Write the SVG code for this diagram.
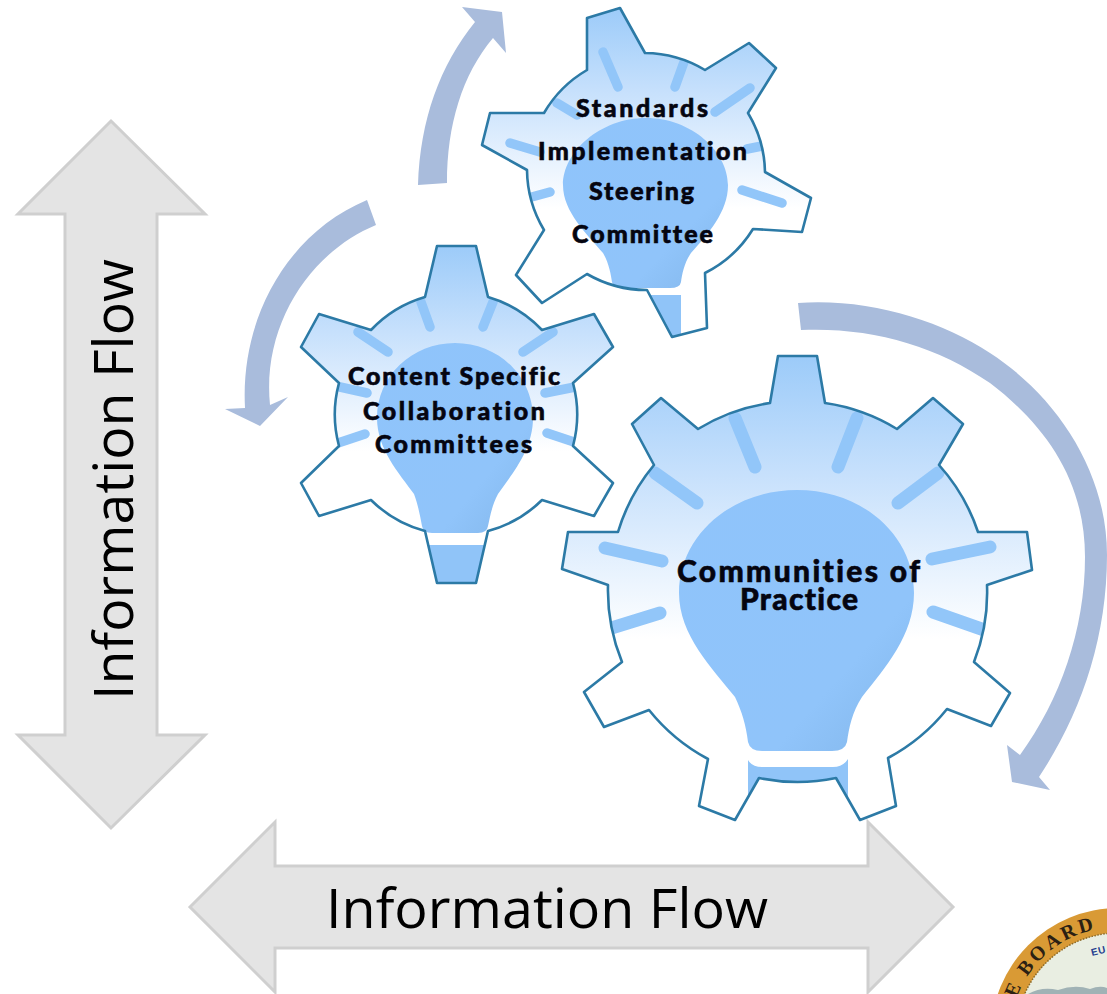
<svg xmlns="http://www.w3.org/2000/svg" width="1107" height="994" viewBox="0 0 1107 994">
<style>
.flow{fill:#e4e4e4;stroke:#cfcfcf;stroke-width:3;stroke-linejoin:miter}
.flowtext{font-family:"Open Sans","Noto Sans",sans-serif;font-size:55px;fill:#000}
.cycle{fill:#a9bcdc}
.gearfill{fill:url(#gearGrad)}
.gearline{fill:none;stroke:#2c7aa6;stroke-width:2.6;stroke-linejoin:round}
.ray{fill:none;stroke:#92c6f9;stroke-linecap:round}
.bulb{fill:url(#bulbGrad)}
.base{fill:#90c4f8}
.label{font-family:Lato,"Noto Sans",sans-serif;font-weight:900;fill:#050510;stroke:#050510;stroke-width:0.6;text-anchor:middle;font-variant-ligatures:none}
</style>
<defs>
<linearGradient id="gearGrad" x1="0" y1="0" x2="0" y2="1">
<stop offset="0" stop-color="#9ccbf9"/><stop offset="0.25" stop-color="#c6e0fc"/><stop offset="0.61" stop-color="#ffffff"/><stop offset="1" stop-color="#ffffff"/>
</linearGradient>
<linearGradient id="bulbGrad" x1="0" y1="0" x2="1" y2="1">
<stop offset="0" stop-color="#8fc4fb"/><stop offset="0.7" stop-color="#90c4fa"/><stop offset="1" stop-color="#82b6ea"/>
</linearGradient>
<path id="gBig" d="M770,403 L778,356 L817,356 L825,403 A190,190 0 0 1 897,429 L933,398 L963,424 L939,465 A190,190 0 0 1 978,532 L1027,532 L1032,570 L987,585 A190,190 0 0 1 974,662 L1010,693 L991,726 L947,709 A190,190 0 0 1 888,758 L896,806 L860,820 L836,778 A190,190 0 0 1 759,778 L735,820 L699,806 L708,759 A190,190 0 0 1 649,710 L604,727 L584,692 L622,662 A190,190 0 0 1 608,585 L562,569 L568,532 L618,532 A190,190 0 0 1 654,465 L632,424 L661,398 L698,429 A190,190 0 0 1 770,403 Z"/>
<path id="gMid" d="M425,297 L437,246 L476,246 L488,297 A121,121 0 0 1 542,330 L594,314 L613,347 L573,383 A121,121 0 0 1 573,446 L613,483 L594,516 L542,500 A121,121 0 0 1 488,531 L476,583 L437,583 L425,531 A121,121 0 0 1 371,500 L319,516 L301,483 L339,446 A121,121 0 0 1 339,383 L301,347 L319,314 L371,330 A121,121 0 0 1 425,297 Z"/>
<path id="gTop" d="M587,70 L587,18 L620,8 L645,53 A119,119 0 0 1 705,70 L749,43 L776,68 L748,113 A119,119 0 0 1 765,172 L811,198 L802,232 L753,229 A119,119 0 0 1 705,273 L707,328 L672,337 L647,290 A119,119 0 0 1 587,274 L542,303 L516,275 L544,230 A119,119 0 0 1 527,170 L482,145 L490,113 L544,113 A119,119 0 0 1 587,70 Z"/>
<clipPath id="cBig"><use href="#gBig"/></clipPath>
<clipPath id="cMid"><use href="#gMid"/></clipPath>
<clipPath id="cTop"><use href="#gTop"/></clipPath>
</defs>
<rect width="1107" height="994" fill="#ffffff"/>

<g id="connectors">
<path id="flow-vertical" class="flow" d="M111,121 L205,214 L157,214 L157,735 L205,735 L111,828 L18,735 L65,735 L65,214 L18,214 Z"/>
<path id="flow-horizontal" class="flow" d="M190,907 L275,822 L275,866 L868,866 L868,822 L953,907 L868,992 L868,948 L275,948 L275,992 Z"/>
<path id="cycle-right" class="cycle" d="M798,303 C868,298 940,320 990,353 C1055,395 1107,470 1107,555 C1107,640 1080,715 1039,777 L1050,790 L1012,782 L1007,745 L1020,755 C1060,700 1085,630 1085,557 C1085,480 1045,425 990,383 C935,345 870,327 801,330 Z"/>
<path id="cycle-top" class="cycle" d="M418,185 C420,120 440,65 475,22 L462,7 L502,12 L506,53 L493,38 C462,75 447,125 447,183 Z"/>
<path id="cycle-left" class="cycle" d="M367,200 C290,232 240,315 245,408 L225,409 L260,426 L288,397 L270,405 C262,325 310,252 376,225 Z"/>
</g>
<text class="flowtext" transform="translate(133,700) rotate(-90)" textLength="441" lengthAdjust="spacingAndGlyphs">Information Flow</text>
<text class="flowtext" x="326" y="928" textLength="442" lengthAdjust="spacingAndGlyphs">Information Flow</text>

<g id="gear-communities">
<use href="#gBig" class="gearfill"/>
<g clip-path="url(#cBig)">
<g class="ray" stroke-width="13">
<path d="M735,418 L755,467M857,418 L838,467M655,473 L697,503M938,473 L898,503M605,548 L662,561M990,547 L932,559M605,630 L660,613M990,632 L933,612"/>
</g>
<path class="base" d="M748,760 Q752,767 762,767 L833,767 Q843,767 848,759 L848,830 L748,830 Z"/>
</g>
<path class="bulb" d="M797,490 C862,490 914,535 914,593 C914,635 885,668 862,697 C852,712 849,728 847,742 Q845,751 832,751 L762,751 Q750,751 748,742 C746,725 742,712 735,697 C712,668 679,635 679,593 C679,535 732,490 797,490 Z"/>
<use href="#gBig" class="gearline"/>
<text class="label" x="798.5" y="582" font-size="30" textLength="243">Communities of</text>
<text class="label" x="799" y="610" font-size="30" textLength="118">Practice</text>
</g>

<g id="gear-content">
<use href="#gMid" class="gearfill"/>
<g clip-path="url(#cMid)">
<g class="ray" stroke-width="9.5">
<path d="M421,302 L430,327M493,302 L483,327M358,332 L388,352M553,332 L523,352M340,387 L367,393M575,387 L545,393M338,443 L365,434M577,443 L547,433"/>
</g>
<rect class="base" x="420" y="545" width="72" height="50"/>
</g>
<path class="bulb" d="M455,343 C498,343 533,376 533,418 C533,449 513,473 498,494 C492,505 490,517 488,526 Q487,533 478,533 L432,533 Q423,533 422,526 C420,515 418,505 414,494 C399,473 377,449 377,418 C377,376 412,343 455,343 Z"/>
<use href="#gMid" class="gearline"/>
<text class="label" x="454" y="385" font-size="25" textLength="212">Content Specific</text>
<text class="label" x="454" y="420" font-size="25" textLength="182">Collaboration</text>
<text class="label" x="453.5" y="453" font-size="25" textLength="157">Committees</text>
</g>

<g id="gear-standards">
<use href="#gTop" class="gearfill"/>
<g clip-path="url(#cTop)">
<g class="ray" stroke-width="9.5">
<path d="M603,52 L618,87M684,62 L675,87M750,88 L715,112M557,103 L577,115M510,143 L540,152M762,146 L747,149M528,198 L550,192M742,190 L782,203"/>
</g>
<rect class="base" x="640" y="295" width="41" height="50"/>
</g>
<path class="bulb" d="M646,118 C692,118 728,152 728,185 C728,212 708,234 691,253 C684,263 682,275 681,282 Q680,288 670,288 L622,288 Q613,288 612,282 C611,275 609,263 603,253 C587,234 563,212 563,185 C563,152 600,118 646,118 Z"/>
<use href="#gTop" class="gearline"/>
<text class="label" x="642" y="117" font-size="25" textLength="132">Standards</text>
<text class="label" x="642.5" y="160" font-size="25" textLength="209">Implementation</text>
<text class="label" x="641.5" y="200" font-size="25" textLength="105">Steering</text>
<text class="label" x="642.5" y="243" font-size="25" textLength="141">Committee</text>
</g>

<g id="seal">
<circle cx="1118" cy="1035" r="127" fill="#d99a35"/>
<circle cx="1118" cy="1035" r="102" fill="#e9eee2" stroke="#8a6a2a" stroke-width="1.5" stroke-dasharray="1.5 1.5"/>
<path d="M1028,994 Q1042,986 1058,990 Q1075,984 1090,989 Q1100,985 1107,988 L1107,994 Z" fill="#a0b2b5"/>
<path id="sealArc" d="M1010,1035 A108,108 0 0 1 1118,927" fill="none"/>
<text font-family="'Liberation Serif',serif" font-weight="700" font-size="20" fill="#2b2013" letter-spacing="3"><textPath href="#sealArc" startOffset="37">E BOARD</textPath></text>
<text x="1092" y="956" transform="rotate(-14 1092 956)" font-family="'Liberation Sans',sans-serif" font-weight="700" font-size="10" fill="#25408f" letter-spacing="0.5">EU</text>
</g>
</svg>
